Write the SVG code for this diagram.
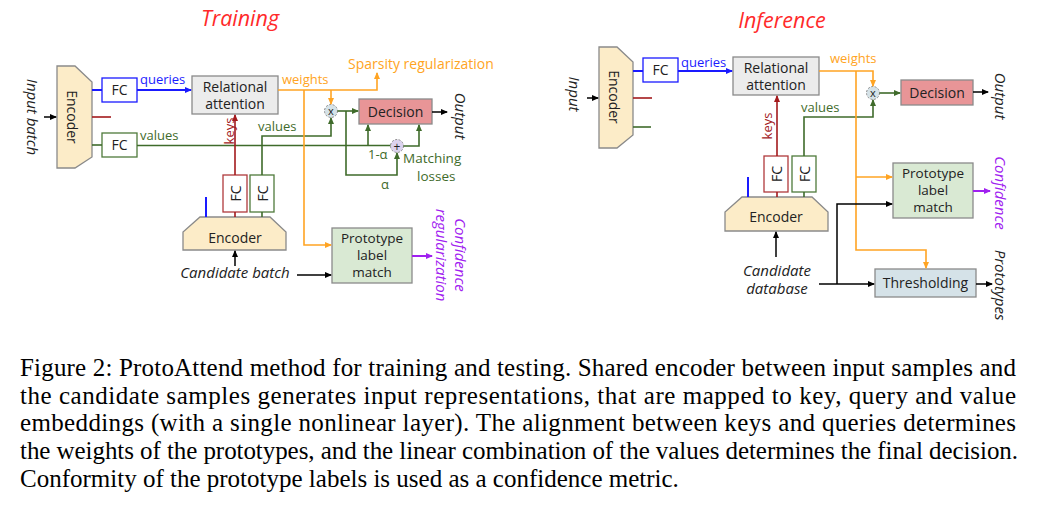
<svg xmlns="http://www.w3.org/2000/svg" width="1037" height="506" viewBox="0 0 1037 506">
<defs>
<marker id="aK" markerWidth="7" markerHeight="6" refX="6" refY="3" orient="auto" markerUnits="userSpaceOnUse"><path d="M0,0 L7,3 L0,6 z" fill="#000"/></marker>
<marker id="aB" markerWidth="7" markerHeight="6" refX="6" refY="3" orient="auto" markerUnits="userSpaceOnUse"><path d="M0,0 L7,3 L0,6 z" fill="#1a1aff"/></marker>
<marker id="aR" markerWidth="7" markerHeight="6" refX="6" refY="3" orient="auto" markerUnits="userSpaceOnUse"><path d="M0,0 L7,3 L0,6 z" fill="#a3191c"/></marker>
<marker id="aG" markerWidth="7" markerHeight="6" refX="6" refY="3" orient="auto" markerUnits="userSpaceOnUse"><path d="M0,0 L7,3 L0,6 z" fill="#3f6b2b"/></marker>
<marker id="aO" markerWidth="7" markerHeight="6" refX="6" refY="3" orient="auto" markerUnits="userSpaceOnUse"><path d="M0,0 L7,3 L0,6 z" fill="#ffa423"/></marker>
<marker id="aP" markerWidth="7" markerHeight="6" refX="6" refY="3" orient="auto" markerUnits="userSpaceOnUse"><path d="M0,0 L7,3 L0,6 z" fill="#a020f0"/></marker>
</defs>
<style>
text{font-family:"Open Sans","Liberation Sans",sans-serif;}
.t{font-size:14px;fill:#222;}
.pm{font-size:13.5px;fill:#222;}
.lab{font-size:13px;}
.lab2{font-size:14px;}
.ml{font-size:13.5px;}
.it{font-style:italic;font-size:15px;fill:#222;}
.title{font-style:italic;font-size:21.5px;fill:#ff2a2a;}
.cap{font-family:"Liberation Serif","Times New Roman",serif;font-size:25px;fill:#000;}
.enc{fill:#fcecc8;stroke:#8a8a8a;stroke-width:1.3;}
.box{stroke:#8a8a8a;stroke-width:1.3;}
.fcB{fill:#fff;stroke:#1a1aff;stroke-width:1.3;}
.fcR{fill:#fff;stroke:#b03a3c;stroke-width:1.3;}
.fcG{fill:#fff;stroke:#4f7a3b;stroke-width:1.3;}
.lk{fill:none;stroke:#000;stroke-width:1.5;}
.lb{fill:none;stroke:#1a1aff;stroke-width:2;}
.lr{fill:none;stroke:#a3191c;stroke-width:1.6;}
.lg{fill:none;stroke:#3f6b2b;stroke-width:1.6;}
.lo{fill:none;stroke:#ffa423;stroke-width:1.6;}
.lp{fill:none;stroke:#a020f0;stroke-width:2;}
.op{stroke:#8a8a8a;stroke-width:1;stroke-dasharray:2,1.5;}
</style>

<!-- Titles -->
<text class="title" x="240" y="26" text-anchor="middle">Training</text>
<text class="title" x="782" y="28" text-anchor="middle">Inference</text>

<!-- ===== Training nodes ===== -->
<g id="t-input"><text class="it" transform="translate(33,117) rotate(90)" text-anchor="middle" dominant-baseline="central">Input batch</text></g>
<g id="t-encoder1"><polygon class="enc" points="57,66 75,66 92,82 92,157 75,168 57,168"/><text class="t" transform="translate(72,117) rotate(90)" text-anchor="middle" dominant-baseline="central">Encoder</text></g>
<g id="t-fcq"><rect class="fcB" x="102" y="78" width="35" height="24"/><text class="t" x="119.5" y="95" text-anchor="middle">FC</text></g>
<g id="t-fcv"><rect class="fcG" x="102" y="133" width="35" height="24"/><text class="t" x="119.5" y="150" text-anchor="middle">FC</text></g>
<g id="t-rel"><rect class="box" fill="#ececec" x="192" y="76" width="86" height="38"/><text class="t" x="235" y="92" text-anchor="middle">Relational</text><text class="t" x="235" y="109" text-anchor="middle">attention</text></g>
<g id="t-fck"><rect class="fcR" x="223" y="175" width="24" height="37"/><text class="t" transform="translate(235,193.5) rotate(-90)" text-anchor="middle" dominant-baseline="central">FC</text></g>
<g id="t-fcv2"><rect class="fcG" x="250" y="175" width="24" height="37"/><text class="t" transform="translate(262,193.5) rotate(-90)" text-anchor="middle" dominant-baseline="central">FC</text></g>
<g id="t-encoder2"><polygon class="enc" points="200,217 270,217 286,232 286,250 183,250 183,232"/><text class="t" x="235" y="243" text-anchor="middle">Encoder</text></g>
<g id="t-cand"><text class="it" x="235" y="278" text-anchor="middle">Candidate batch</text></g>
<g id="t-mult"><circle class="op" fill="#d5e2e8" cx="331" cy="111" r="6.5"/><text x="331" y="115" font-size="11" text-anchor="middle" fill="#222">x</text></g>
<g id="t-plus"><circle class="op" fill="#dcd3ee" cx="397" cy="146" r="6.5"/><text x="397" y="150.5" font-size="12" text-anchor="middle" fill="#222">+</text></g>
<g id="t-dec"><rect class="box" fill="#e89597" x="359" y="99" width="73" height="25"/><text class="t" x="395.5" y="116.5" text-anchor="middle">Decision</text></g>
<g id="t-out"><text class="it" transform="translate(461,116) rotate(90)" text-anchor="middle" dominant-baseline="central">Output</text></g>
<g id="t-proto"><rect class="box" fill="#d9e9d3" x="332" y="228" width="80" height="55"/><text class="pm" x="372" y="243" text-anchor="middle">Prototype</text><text class="pm" x="372" y="260" text-anchor="middle">label</text><text class="pm" x="372" y="277" text-anchor="middle">match</text></g>
<g id="t-conf"><text class="it" style="fill:#a020f0" transform="translate(461,255) rotate(90)" text-anchor="middle" dominant-baseline="central">Confidence</text><text class="it" style="fill:#a020f0" transform="translate(442,255) rotate(90)" text-anchor="middle" dominant-baseline="central">regularization</text></g>
<g id="t-sparsity"><text class="lab2" x="348" y="69" fill="#ffa423">Sparsity regularization</text></g>
<g id="t-match"><text class="ml" x="403" y="163" fill="#3f6b2b">Matching</text><text class="ml" x="417" y="181" fill="#3f6b2b">losses</text></g>

<!-- ===== Inference nodes ===== -->
<g id="i-input"><text class="it" transform="translate(575,94) rotate(90)" text-anchor="middle" dominant-baseline="central">Input</text></g>
<g id="i-encoder1"><polygon class="enc" points="599,47 617,47 633,62 633,135 617,148 599,148"/><text class="t" transform="translate(614,97) rotate(90)" text-anchor="middle" dominant-baseline="central">Encoder</text></g>
<g id="i-fcq"><rect class="fcB" x="643" y="58" width="35" height="24"/><text class="t" x="660.5" y="75" text-anchor="middle">FC</text></g>
<g id="i-rel"><rect class="box" fill="#ececec" x="733" y="57" width="86" height="38"/><text class="t" x="776" y="73" text-anchor="middle">Relational</text><text class="t" x="776" y="90" text-anchor="middle">attention</text></g>
<g id="i-fck"><rect class="fcR" x="764" y="156" width="24" height="36"/><text class="t" transform="translate(776,174) rotate(-90)" text-anchor="middle" dominant-baseline="central">FC</text></g>
<g id="i-fcv"><rect class="fcG" x="792" y="156" width="24" height="36"/><text class="t" transform="translate(804,174) rotate(-90)" text-anchor="middle" dominant-baseline="central">FC</text></g>
<g id="i-encoder2"><polygon class="enc" points="742,197 812,197 828,212 828,231 725,231 725,212"/><text class="t" x="776" y="222" text-anchor="middle">Encoder</text></g>
<g id="i-cand"><text class="it" x="777" y="276" text-anchor="middle">Candidate</text><text class="it" x="777" y="294" text-anchor="middle">database</text></g>
<g id="i-mult"><circle class="op" fill="#d5e2e8" cx="873" cy="93" r="6.5"/><text x="873" y="97" font-size="11" text-anchor="middle" fill="#222">x</text></g>
<g id="i-dec"><rect class="box" fill="#e89597" x="901" y="80" width="72" height="25"/><text class="t" x="937" y="97.5" text-anchor="middle">Decision</text></g>
<g id="i-out"><text class="it" transform="translate(1001,96) rotate(90)" text-anchor="middle" dominant-baseline="central">Output</text></g>
<g id="i-proto"><rect class="box" fill="#d9e9d3" x="893" y="163" width="80" height="55"/><text class="pm" x="933" y="178" text-anchor="middle">Prototype</text><text class="pm" x="933" y="195" text-anchor="middle">label</text><text class="pm" x="933" y="212" text-anchor="middle">match</text></g>
<g id="i-conf"><text class="it" style="fill:#a020f0" transform="translate(1001,193) rotate(90)" text-anchor="middle" dominant-baseline="central">Confidence</text></g>
<g id="i-thr"><rect class="box" fill="#d5e2e8" x="875" y="269" width="101" height="28"/><text class="t" x="925.5" y="288" text-anchor="middle">Thresholding</text></g>
<g id="i-protos"><text class="it" transform="translate(1001,285) rotate(90)" text-anchor="middle" dominant-baseline="central">Prototypes</text></g>

<!-- ===== Connectors ===== -->
<g id="connectors">
<!-- training -->
<line class="lk" x1="44" y1="117" x2="56" y2="117" marker-end="url(#aK)"/>
<line class="lb" x1="92" y1="90" x2="102" y2="90"/>
<line class="lr" x1="92" y1="117" x2="111" y2="117"/>
<line class="lg" x1="92" y1="145" x2="102" y2="145"/>
<line class="lb" x1="137" y1="90" x2="191" y2="90" marker-end="url(#aB)"/>
<text class="lab" x="140" y="84" fill="#1a1aff">queries</text>
<text class="lab" x="140" y="140" fill="#3f6b2b">values</text>
<path class="lg" d="M137,145.5 H390.5"/>
<line class="lr" x1="235" y1="175" x2="235" y2="115" marker-end="url(#aR)"/>
<text class="lab" fill="#a3191c" transform="translate(229,131) rotate(-90)" text-anchor="middle" dominant-baseline="central">keys</text>
<line class="lr" x1="235" y1="212" x2="235" y2="217"/>
<line class="lg" x1="262" y1="212" x2="262" y2="217"/>
<line class="lb" x1="206" y1="197" x2="206" y2="217"/>
<path class="lg" d="M262,175 V136 H331 V118" marker-end="url(#aG)"/>
<text class="lab" x="258" y="131" fill="#3f6b2b">values</text>
<path class="lo" d="M278,90 H377 V73" marker-end="url(#aO)"/>
<text class="lab" x="282" y="84" fill="#ffa423">weights</text>
<path class="lo" d="M331,90 V104" marker-end="url(#aO)"/>
<path class="lo" d="M304,90 V245 H331" marker-end="url(#aO)"/>
<path class="lg" d="M337.5,111 H358" marker-end="url(#aG)"/>
<path class="lg" d="M346,111 V175 H397 V153" marker-end="url(#aG)"/>
<path class="lg" d="M368,145.5 V125" marker-end="url(#aG)"/>
<path class="lg" d="M403.5,146 H419 V125" marker-end="url(#aG)"/>
<text class="lab" x="368" y="159" fill="#3f6b2b">1-α</text>
<text class="lab" x="381" y="189" fill="#3f6b2b">α</text>
<line class="lk" x1="432" y1="112" x2="447" y2="112" marker-end="url(#aK)"/>
<line class="lk" x1="235" y1="266" x2="235" y2="251" marker-end="url(#aK)"/>
<line class="lk" x1="297" y1="275" x2="331" y2="275" marker-end="url(#aK)"/>
<line class="lp" x1="412" y1="256" x2="432" y2="256" marker-end="url(#aP)"/>
<!-- inference -->
<line class="lk" x1="587" y1="98" x2="598" y2="98" marker-end="url(#aK)"/>
<line class="lb" x1="633" y1="71" x2="643" y2="71"/>
<line class="lr" x1="633" y1="98" x2="652" y2="98"/>
<line class="lg" x1="633" y1="127" x2="651" y2="127"/>
<line class="lb" x1="678" y1="71" x2="732" y2="71" marker-end="url(#aB)"/>
<text class="lab" x="681" y="67" fill="#1a1aff">queries</text>
<line class="lr" x1="777" y1="156" x2="777" y2="96" marker-end="url(#aR)"/>
<text class="lab" fill="#a3191c" transform="translate(767,126) rotate(-90)" text-anchor="middle" dominant-baseline="central">keys</text>
<line class="lr" x1="777" y1="192" x2="777" y2="197"/>
<line class="lg" x1="804" y1="192" x2="804" y2="197"/>
<line class="lb" x1="748" y1="177" x2="748" y2="197"/>
<path class="lg" d="M804,156 V117 H873 V100" marker-end="url(#aG)"/>
<text class="lab" x="801" y="112" fill="#3f6b2b">values</text>
<path class="lo" d="M819,71 H873 V86" marker-end="url(#aO)"/>
<text class="lab" x="830" y="63" fill="#ffa423">weights</text>
<path class="lo" d="M856,71 V250 H926 V268" marker-end="url(#aO)"/>
<path class="lo" d="M856,177 H892" marker-end="url(#aO)"/>
<path class="lg" d="M879.5,93 H900" marker-end="url(#aG)"/>
<line class="lk" x1="973" y1="92" x2="988" y2="92" marker-end="url(#aK)"/>
<line class="lk" x1="776" y1="257" x2="776" y2="232" marker-end="url(#aK)"/>
<path class="lk" d="M819,284 H874" marker-end="url(#aK)"/>
<path class="lk" d="M837,284 V204 H892" marker-end="url(#aK)"/>
<line class="lp" x1="973" y1="191" x2="990" y2="191" marker-end="url(#aP)"/>
<line class="lk" x1="976" y1="284" x2="992" y2="284" marker-end="url(#aK)"/>
</g>

<!-- Caption -->
<g id="caption">
<text class="cap" x="20" y="376" textLength="996" lengthAdjust="spacing">Figure 2: ProtoAttend method for training and testing. Shared encoder between input samples and</text>
<text class="cap" x="20" y="404" textLength="996" lengthAdjust="spacing">the candidate samples generates input representations, that are mapped to key, query and value</text>
<text class="cap" x="20" y="431" textLength="996" lengthAdjust="spacing">embeddings (with a single nonlinear layer). The alignment between keys and queries determines</text>
<text class="cap" x="20" y="459" textLength="998" lengthAdjust="spacing">the weights of the prototypes, and the linear combination of the values determines the final decision.</text>
<text class="cap" x="20" y="487">Conformity of the prototype labels is used as a confidence metric.</text>
</g>
</svg>
